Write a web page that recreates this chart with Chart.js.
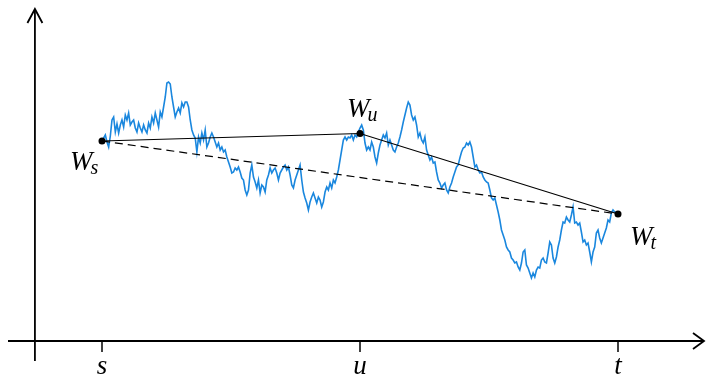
<!DOCTYPE html>
<html lang="en">
<head>
    <meta charset="UTF-8">
    <title>Brownian path between s, u and t</title>
    <script src="https://cdn.jsdelivr.net/npm/chart.js"></script>
    <style>
        html, body { margin: 0; padding: 0; background: #fff; }
        #wrap { width: 706px; height: 375px; }
    </style>
</head>
<body>
    <div id="wrap"><canvas id="pathChart"></canvas></div>
    <script>
        // time axis: s = 0, u = 1, t = 2
        const tickTimes = [0, 1, 2];
        const tickLabels = ['s', 'u', 't'];

        // the marked values W_s, W_u, W_t
        const markNames = ['s', 'u', 't'];
        const markW = [2.00, 2.075, 1.27];

        // sampled path W(time), evenly spaced from s to t
        const pathW = [
            2.00, 2.03, 2.06, 1.99, 1.94, 2.05, 2.21, 2.24, 2.09, 2.17,
            2.08, 2.16, 2.21, 2.14, 2.26, 2.21, 2.28, 2.16, 2.19, 2.21,
            2.13, 2.09, 2.18, 2.13, 2.09, 2.16, 2.11, 2.08, 2.18, 2.13,
            2.24, 2.18, 2.28, 2.21, 2.14, 2.29, 2.24, 2.34, 2.44, 2.58,
            2.59, 2.57, 2.44, 2.34, 2.24, 2.29, 2.33, 2.28, 2.38, 2.34,
            2.39, 2.39, 2.34, 2.21, 2.11, 2.06, 2.03, 1.89, 2.04, 1.98,
            2.08, 2.01, 2.11, 1.94, 1.98, 2.04, 2.08, 2.04, 1.99, 1.94,
            1.98, 1.91, 1.94, 1.89, 1.91, 1.84, 1.79, 1.74, 1.68, 1.69,
            1.73, 1.71, 1.74, 1.69, 1.63, 1.61, 1.51, 1.46, 1.51, 1.68,
            1.76, 1.64, 1.59, 1.53, 1.61, 1.48, 1.56, 1.54, 1.49, 1.61,
            1.66, 1.73, 1.68, 1.71, 1.73, 1.68, 1.61, 1.68, 1.71, 1.74,
            1.76, 1.71, 1.74, 1.66, 1.56, 1.53, 1.61, 1.66, 1.71, 1.76,
            1.61, 1.49, 1.43, 1.38, 1.31, 1.39, 1.44, 1.48, 1.43, 1.38,
            1.44, 1.41, 1.34, 1.39, 1.49, 1.54, 1.51, 1.58, 1.53, 1.61,
            1.58, 1.64, 1.71, 1.81, 1.91, 2.01, 2.04, 2.01, 2.04, 2.03,
            2.06, 2.01, 2.06, 2.04, 2.09, 2.13, 2.16, 2.11, 1.98, 1.91,
            1.94, 1.91, 1.99, 1.94, 1.84, 1.78, 1.88, 1.96, 2.01, 2.06,
            2.03, 2.08, 1.96, 2.01, 1.96, 1.91, 1.89, 1.94, 1.98, 2.04,
            2.11, 2.19, 2.26, 2.33, 2.39, 2.36, 2.26, 2.21, 2.24, 2.16,
            2.04, 2.08, 2.01, 1.98, 2.04, 1.91, 1.86, 1.81, 1.84, 1.78,
            1.79, 1.69, 1.61, 1.58, 1.53, 1.56, 1.58, 1.51, 1.48, 1.54,
            1.58, 1.64, 1.69, 1.74, 1.76, 1.83, 1.89, 1.93, 1.94, 1.98,
            1.96, 1.99, 1.94, 1.84, 1.74, 1.76, 1.71, 1.68, 1.69, 1.64,
            1.61, 1.59, 1.58, 1.51, 1.43, 1.41, 1.43, 1.36, 1.29, 1.21,
            1.11, 1.06, 1.01, 0.94, 0.91, 0.89, 0.83, 0.81, 0.78, 0.79,
            0.74, 0.71, 0.78, 0.89, 0.91, 0.76, 0.73, 0.68, 0.63, 0.68,
            0.64, 0.71, 0.74, 0.73, 0.81, 0.83, 0.79, 0.78, 0.88, 0.99,
            0.96, 0.83, 0.78, 0.84, 0.94, 1.01, 1.11, 1.19, 1.18, 1.24,
            1.21, 1.19, 1.26, 1.34, 1.18, 1.19, 1.16, 1.18, 1.09, 0.99,
            1.01, 0.96, 0.98, 0.89, 0.79, 0.89, 0.94, 1.08, 1.11, 1.03,
            0.98, 1.03, 1.08, 1.13, 1.21, 1.19, 1.28, 1.31, 1.29, 1.28,
            1.28
        ];

        const pathPoints = pathW.map((w, i) => ({ x: 2 * i / (pathW.length - 1), y: w }));
        const markPoints = tickTimes.map((tm, i) => ({ x: tm, y: markW[i] }));

        const LABEL_FONT = '"Liberation Serif", "DejaVu Serif", serif';

        // axes with arrow heads, tick marks and the W labels
        const axesPlugin = {
            id: 'axesPlugin',
            beforeDatasetsDraw(chart) {
                const { ctx, chartArea, scales: { x, y } } = chart;
                const ox = x.getPixelForValue(-0.26);
                const oy = y.getPixelForValue(0);
                ctx.save();
                ctx.strokeStyle = '#000';
                ctx.lineWidth = 1.8;
                ctx.lineCap = 'butt';
                // horizontal axis
                ctx.beginPath();
                ctx.moveTo(chartArea.left + 8, oy);
                ctx.lineTo(chartArea.right - 2, oy);
                ctx.stroke();
                ctx.beginPath();
                ctx.moveTo(chartArea.right - 13, oy - 8);
                ctx.lineTo(chartArea.right - 2, oy);
                ctx.lineTo(chartArea.right - 13, oy + 8);
                ctx.stroke();
                // vertical axis
                ctx.beginPath();
                ctx.moveTo(ox, oy + 20);
                ctx.lineTo(ox, chartArea.top + 9);
                ctx.stroke();
                ctx.beginPath();
                ctx.moveTo(ox - 7.5, chartArea.top + 23);
                ctx.lineTo(ox, chartArea.top + 9);
                ctx.lineTo(ox + 7.5, chartArea.top + 23);
                ctx.stroke();
                // ticks + labels
                ctx.lineWidth = 1.5;
                ctx.fillStyle = '#000';
                ctx.font = 'italic 27px ' + LABEL_FONT;
                ctx.textAlign = 'center';
                ctx.textBaseline = 'alphabetic';
                tickTimes.forEach((tm, i) => {
                    const px = x.getPixelForValue(tm);
                    ctx.beginPath();
                    ctx.moveTo(px, oy);
                    ctx.lineTo(px, oy + 11);
                    ctx.stroke();
                    ctx.fillText(tickLabels[i], px, oy + 33);
                });
                ctx.restore();
            },
            afterDatasetsDraw(chart) {
                const { ctx, scales: { x, y } } = chart;
                // label offsets from each marked point: [dx, dy] of the W baseline
                const offsets = [[-32, 29], [-13, -17], [12, 31]];
                ctx.save();
                ctx.fillStyle = '#000';
                ctx.textAlign = 'left';
                ctx.textBaseline = 'alphabetic';
                markPoints.forEach((p, i) => {
                    const px = x.getPixelForValue(p.x) + offsets[i][0];
                    const py = y.getPixelForValue(p.y) + offsets[i][1];
                    ctx.font = 'italic 27px ' + LABEL_FONT;
                    ctx.fillText('W', px, py);
                    const wWidth = ctx.measureText('W').width;
                    ctx.font = 'italic 20px ' + LABEL_FONT;
                    ctx.fillText(markNames[i], px + wWidth - 2, py + 4);
                });
                ctx.restore();
            }
        };

        const ctx = document.getElementById('pathChart').getContext('2d');
        new Chart(ctx, {
            type: 'line',
            data: {
                datasets: [
                    {
                        label: 'W_s W_u W_t',
                        data: markPoints,
                        borderColor: '#000',
                        borderWidth: 1.2,
                        pointRadius: 3.5,
                        pointBackgroundColor: '#000',
                        pointBorderWidth: 0,
                        tension: 0
                    },
                    {
                        label: 'W_s to W_t',
                        data: [markPoints[0], markPoints[2]],
                        borderColor: '#000',
                        borderWidth: 1.2,
                        borderDash: [8, 5],
                        pointRadius: 0,
                        tension: 0
                    },
                    {
                        label: 'path',
                        data: pathPoints,
                        borderColor: '#1a87de',
                        borderWidth: 1.6,
                        pointRadius: 0,
                        tension: 0
                    }
                ]
            },
            options: {
                responsive: true,
                maintainAspectRatio: false,
                animation: false,
                events: [],
                layout: { padding: 0, autoPadding: false },
                plugins: {
                    legend: { display: false },
                    tooltip: { enabled: false },
                    title: { display: false }
                },
                scales: {
                    x: { type: 'linear', display: false, min: -102 / 258, max: 604 / 258 },
                    y: { type: 'linear', display: false, min: -0.34, max: 3.41 }
                }
            },
            plugins: [axesPlugin]
        });
    </script>
</body>
</html>
